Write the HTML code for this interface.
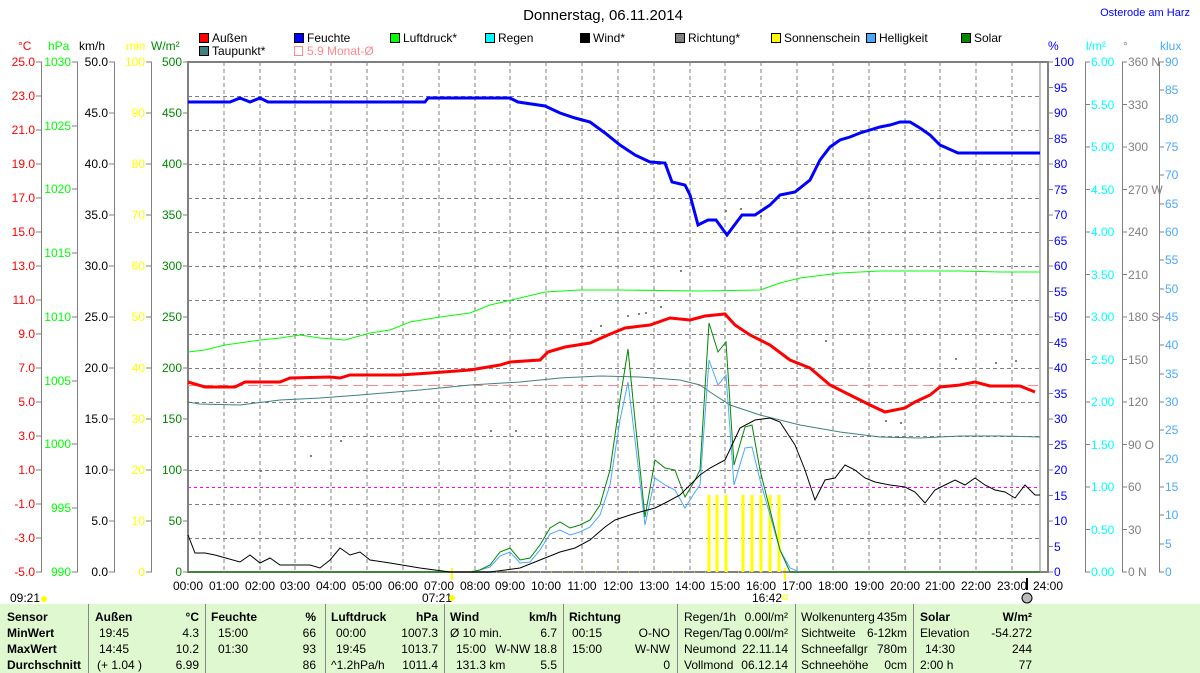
<!DOCTYPE html>
<html><head><meta charset="utf-8"><style>
body{margin:0;background:#fff;width:1200px;height:673px;overflow:hidden;font-family:"Liberation Sans",sans-serif}
svg{position:absolute;left:0;top:0}
text{font-family:"Liberation Sans",sans-serif;font-size:12px}
.tb{position:absolute;left:0;top:604px;width:1200px;height:69px;background:#e0f8d0}
.c{position:absolute;font-size:12px;white-space:nowrap}
.b{font-weight:bold}
.sep{position:absolute;top:604px;height:69px;width:1px;background:#888}
</style></head><body>
<div class="tb"></div>
<svg width="1200" height="673" viewBox="0 0 1200 673">
<text x="603" y="20" text-anchor="middle" style="font-size:15px">Donnerstag, 06.11.2014</text>
<text x="1190" y="16" text-anchor="end" fill="#00f" style="font-size:11px">Osterode am Harz</text>
<g stroke="#000" stroke-width="1">
<rect x="199.5" y="33.5" width="9" height="9" fill="#f00"/><rect x="294.5" y="33.5" width="9" height="9" fill="#00f"/>
<rect x="390.5" y="33.5" width="9" height="9" fill="#0f0"/><rect x="485.5" y="33.5" width="9" height="9" fill="#0ff"/>
<rect x="580.5" y="33.5" width="9" height="9" fill="#000"/><rect x="675.5" y="33.5" width="9" height="9" fill="#808080"/>
<rect x="771.5" y="33.5" width="9" height="9" fill="#ff0"/><rect x="866.5" y="33.5" width="9" height="9" fill="#4aa8ff"/>
<rect x="961.5" y="33.5" width="9" height="9" fill="#080"/><rect x="199.5" y="46.5" width="9" height="9" fill="#408080"/>
</g>
<rect x="294.5" y="46.5" width="8" height="9" fill="none" stroke="#f88"/>
<g style="font-size:11px">
<text x="212" y="42">Außen</text><text x="307" y="42">Feuchte</text><text x="403" y="42">Luftdruck*</text><text x="498" y="42">Regen</text>
<text x="593" y="42">Wind*</text><text x="688" y="42">Richtung*</text><text x="784" y="42">Sonnenschein</text><text x="879" y="42">Helligkeit</text>
<text x="974" y="42">Solar</text><text x="212" y="55">Taupunkt*</text><text x="307" y="55" fill="#f88">5.9 Monat-Ø</text>
</g>
<g style="font-size:11px">
<text x="18" y="50" fill="#f00">°C</text><text x="48" y="50" fill="#0f0">hPa</text><text x="79" y="50">km/h</text>
<text x="126" y="50" fill="#ff0">min</text><text x="151" y="50" fill="#080">W/m²</text>
<text x="1048" y="50" fill="#00f">%</text><text x="1086" y="50" fill="#0ff">l/m²</text><text x="1123" y="50" fill="#808080">°</text><text x="1160" y="50" fill="#4aa8ff">klux</text>
</g>
<g stroke="#808080" stroke-dasharray="4,3" stroke-width="1">
<path d="M224 62V572M260 62V572M295 62V572M331 62V572M367 62V572M403 62V572M439 62V572M475 62V572M510 62V572M546 62V572M582 62V572M618 62V572M654 62V572M690 62V572M725 62V572M761 62V572M797 62V572M833 62V572M869 62V572M905 62V572M940 62V572M976 62V572M1012 62V572"/>
<path d="M188 96.5H1040M188 130.5H1040M188 164.5H1040M188 198.5H1040M188 232.5H1040M188 266.5H1040M188 300.5H1040M188 334.5H1040M188 368.5H1040M188 402.5H1040M188 436.5H1040M188 470.5H1040M188 504.5H1040M188 538.5H1040"/>
</g>
<path d="M188 487.5H1040" stroke="#f0f" stroke-dasharray="3,3"/>
<g stroke="#808080" stroke-width="1" fill="none">
<path d="M41.5 62V572M77.5 62V572M114.5 62V572M151.5 62V572"/>
<path d="M36 62h6M36 96h6M36 130h6M36 164h6M36 198h6M36 232h6M36 266h6M36 300h6M36 334h6M36 368h6M36 402h6M36 436h6M36 470h6M36 504h6M36 538h6M36 572h6"/>
<path d="M72 62h6M72 126h6M72 189h6M72 253h6M72 317h6M72 381h6M72 444h6M72 508h6M72 572h6"/>
<path d="M109 62h6M109 113h6M109 164h6M109 215h6M109 266h6M109 317h6M109 368h6M109 419h6M109 470h6M109 521h6M109 572h6"/>
<path d="M146 62h6M146 113h6M146 164h6M146 215h6M146 266h6M146 317h6M146 368h6M146 419h6M146 470h6M146 521h6M146 572h6"/>
<path d="M183 62h6M183 113h6M183 164h6M183 215h6M183 266h6M183 317h6M183 368h6M183 419h6M183 470h6M183 521h6M183 572h6"/>
<path d="M1085.5 62V572M1122.5 62V572M1159.5 62V572"/>
<path d="M1048 62h5M1048 87.5h5M1048 113h5M1048 138.5h5M1048 164h5M1048 189.5h5M1048 215h5M1048 240.5h5M1048 266h5M1048 291.5h5M1048 317h5M1048 342.5h5M1048 368h5M1048 393.5h5M1048 419h5M1048 444.5h5M1048 470h5M1048 495.5h5M1048 521h5M1048 546.5h5M1048 572h5"/>
<path d="M1085 62h5M1085 104.5h5M1085 147h5M1085 189.5h5M1085 232h5M1085 274.5h5M1085 317h5M1085 359.5h5M1085 402h5M1085 444.5h5M1085 487h5M1085 529.5h5M1085 572h5"/>
<path d="M1122 62h5M1122 104.5h5M1122 147h5M1122 189.5h5M1122 232h5M1122 274.5h5M1122 317h5M1122 359.5h5M1122 402h5M1122 444.5h5M1122 487h5M1122 529.5h5M1122 572h5"/>
<path d="M1159 62h5M1159 90h5M1159 119h5M1159 147h5M1159 175h5M1159 204h5M1159 232h5M1159 260h5M1159 289h5M1159 317h5M1159 345h5M1159 374h5M1159 402h5M1159 430h5M1159 459h5M1159 487h5M1159 515h5M1159 544h5M1159 572h5"/>
</g>
<g text-anchor="end" fill="#f00">
<text x="35" y="66">25.0</text><text x="35" y="100">23.0</text><text x="35" y="134">21.0</text><text x="35" y="168">19.0</text><text x="35" y="202">17.0</text><text x="35" y="236">15.0</text><text x="35" y="270">13.0</text><text x="35" y="304">11.0</text><text x="35" y="338">9.0</text><text x="35" y="372">7.0</text><text x="35" y="406">5.0</text><text x="35" y="440">3.0</text><text x="35" y="474">1.0</text><text x="35" y="508">-1.0</text><text x="35" y="542">-3.0</text><text x="35" y="576">-5.0</text>
</g>
<g text-anchor="end" fill="#0f0">
<text x="71" y="66">1030</text><text x="71" y="130">1025</text><text x="71" y="193">1020</text><text x="71" y="257">1015</text><text x="71" y="321">1010</text><text x="71" y="385">1005</text><text x="71" y="448">1000</text><text x="71" y="512">995</text><text x="71" y="576">990</text>
</g>
<g text-anchor="end">
<text x="108" y="66">50.0</text><text x="108" y="117">45.0</text><text x="108" y="168">40.0</text><text x="108" y="219">35.0</text><text x="108" y="270">30.0</text><text x="108" y="321">25.0</text><text x="108" y="372">20.0</text><text x="108" y="423">15.0</text><text x="108" y="474">10.0</text><text x="108" y="525">5.0</text><text x="108" y="576">0.0</text>
</g>
<g text-anchor="end" fill="#ff0">
<text x="145" y="66">100</text><text x="145" y="117">90</text><text x="145" y="168">80</text><text x="145" y="219">70</text><text x="145" y="270">60</text><text x="145" y="321">50</text><text x="145" y="372">40</text><text x="145" y="423">30</text><text x="145" y="474">20</text><text x="145" y="525">10</text><text x="145" y="576">0</text>
</g>
<g text-anchor="end" fill="#080">
<text x="182" y="66">500</text><text x="182" y="117">450</text><text x="182" y="168">400</text><text x="182" y="219">350</text><text x="182" y="270">300</text><text x="182" y="321">250</text><text x="182" y="372">200</text><text x="182" y="423">150</text><text x="182" y="474">100</text><text x="182" y="525">50</text><text x="182" y="576">0</text>
</g>
<g fill="#00f">
<text x="1054" y="66">100</text><text x="1054" y="92">95</text><text x="1054" y="117">90</text><text x="1054" y="143">85</text><text x="1054" y="168">80</text><text x="1054" y="194">75</text><text x="1054" y="219">70</text><text x="1054" y="245">65</text><text x="1054" y="270">60</text><text x="1054" y="296">55</text><text x="1054" y="321">50</text><text x="1054" y="347">45</text><text x="1054" y="372">40</text><text x="1054" y="398">35</text><text x="1054" y="423">30</text><text x="1054" y="449">25</text><text x="1054" y="474">20</text><text x="1054" y="500">15</text><text x="1054" y="525">10</text><text x="1054" y="551">5</text><text x="1054" y="576">0</text>
</g>
<g fill="#0ff">
<text x="1091" y="66">6.00</text><text x="1091" y="109">5.50</text><text x="1091" y="151">5.00</text><text x="1091" y="194">4.50</text><text x="1091" y="236">4.00</text><text x="1091" y="279">3.50</text><text x="1091" y="321">3.00</text><text x="1091" y="364">2.50</text><text x="1091" y="406">2.00</text><text x="1091" y="449">1.50</text><text x="1091" y="491">1.00</text><text x="1091" y="534">0.50</text><text x="1091" y="576">0.00</text>
</g>
<g fill="#808080">
<text x="1128" y="66">360 N</text><text x="1128" y="109">330</text><text x="1128" y="151">300</text><text x="1128" y="194">270 W</text><text x="1128" y="236">240</text><text x="1128" y="279">210</text><text x="1128" y="321">180 S</text><text x="1128" y="364">150</text><text x="1128" y="406">120</text><text x="1128" y="449">90 O</text><text x="1128" y="491">60</text><text x="1128" y="534">30</text><text x="1128" y="576">0 N</text>
</g>
<g fill="#4aa8ff">
<text x="1165" y="66">90</text><text x="1165" y="94">85</text><text x="1165" y="123">80</text><text x="1165" y="151">75</text><text x="1165" y="179">70</text><text x="1165" y="208">65</text><text x="1165" y="236">60</text><text x="1165" y="264">55</text><text x="1165" y="293">50</text><text x="1165" y="321">45</text><text x="1165" y="349">40</text><text x="1165" y="378">35</text><text x="1165" y="406">30</text><text x="1165" y="434">25</text><text x="1165" y="463">20</text><text x="1165" y="491">15</text><text x="1165" y="519">10</text><text x="1165" y="548">5</text><text x="1165" y="576">0</text>
</g>
<g text-anchor="middle">
<text x="188" y="590">00:00</text><text x="224" y="590">01:00</text><text x="260" y="590">02:00</text><text x="295" y="590">03:00</text><text x="331" y="590">04:00</text><text x="367" y="590">05:00</text><text x="403" y="590">06:00</text><text x="439" y="590">07:00</text><text x="475" y="590">08:00</text><text x="510" y="590">09:00</text><text x="546" y="590">10:00</text><text x="582" y="590">11:00</text><text x="618" y="590">12:00</text><text x="654" y="590">13:00</text><text x="690" y="590">14:00</text><text x="725" y="590">15:00</text><text x="761" y="590">16:00</text><text x="797" y="590">17:00</text><text x="833" y="590">18:00</text><text x="869" y="590">19:00</text><text x="905" y="590">20:00</text><text x="940" y="590">21:00</text><text x="976" y="590">22:00</text><text x="1012" y="590">23:00</text><text x="1048" y="590">24:00</text>
<text x="437" y="602">07:21</text><text x="767" y="602">16:42</text>
</g>
<text x="10" y="602">09:21</text>
<circle cx="44" cy="599" r="3" fill="#ff0"/><circle cx="452" cy="598" r="3" fill="#ff0"/>
<rect x="783" y="595" width="4" height="4" fill="none" stroke="#ff0"/>
<circle cx="1027" cy="598" r="5" fill="#bbb" stroke="#000"/>
<path d="M1027 578V590" stroke="#000" stroke-width="2"/>
<path d="M452 568V580M785 568V580" stroke="#ff0" stroke-width="2"/>
<g stroke="#808080" fill="none" stroke-width="2">
<path d="M188 62H1048V572H188Z"/><path d="M1040 62V572" stroke-width="1"/>
</g>
<path d="M188 572H1040" stroke="#ff0" stroke-dasharray="1,10"/>
<path d="M188 385.5H1040" stroke="#f88" stroke-dasharray="10,5"/>
<g stroke="#ff0" stroke-width="3">
<path d="M709 495V572M717 495V572M726 495V572M743 495V572M752 495V572M761 495V572M770 495V572M779 495V572"/>
</g>
<polyline fill="none" stroke="#0f0" stroke-width="1" points="188,352 205,350 225,345 260,340 280,338 300,335 320,338 345,340 370,333 390,330 410,322 440,317 470,313 490,305 520,298 545,292 580,290 620,290 700,291 760,290 780,283 800,278 840,273 880,271 960,271 1000,272 1040,272"/>
<polyline fill="none" stroke="#408080" stroke-width="1" points="188,402 200,404 240,405 280,400 320,398 360,395 420,390 470,385 520,382 560,378 600,376 640,377 680,380 700,385 710,392 730,405 760,415 800,425 840,432 880,437 920,438 960,436 1000,436 1040,437"/>
<polyline fill="none" stroke="#4aa8ff" stroke-width="1" points="188,572 470,572 480,570 490,567 500,556 510,552 520,563 530,562 540,550 550,534 560,530 570,535 580,532 590,527 600,515 610,485 620,420 628,382 635,440 645,525 655,478 665,485 675,490 685,508 695,492 700,485 709,360 718,385 726,375 734,485 745,448 752,447 760,480 770,515 780,550 790,568 800,572 1040,572"/>
<polyline fill="none" stroke="#080" stroke-width="1" points="188,572 470,572 480,570 490,565 500,552 510,548 520,560 530,558 540,545 550,528 560,522 570,528 580,525 590,520 600,505 610,470 620,400 628,349 635,420 645,517 655,460 665,468 675,470 685,497 695,480 700,470 709,323 718,352 726,342 734,465 745,427 752,425 760,470 770,510 780,550 790,572 1040,572"/>
<polyline fill="none" stroke="#000" stroke-width="1" points="188,535 195,553 205,553 215,555 240,562 250,555 260,563 270,558 280,565 310,565 320,568 330,560 340,548 350,555 360,552 370,560 390,563 420,568 450,572 490,572 520,568 540,560 560,552 575,548 590,540 605,527 615,520 630,515 640,512 655,508 665,503 680,495 700,475 710,468 725,460 740,428 755,420 770,418 780,422 795,445 805,470 815,500 825,480 835,478 845,465 855,470 865,478 875,482 890,485 905,487 915,492 925,503 935,490 945,485 955,480 965,485 975,478 985,485 995,490 1005,492 1015,498 1025,485 1035,495 1040,495"/>
<polyline fill="none" stroke="#f00" stroke-width="3" points="188,382 205,387 235,387 245,382 280,382 290,378 330,377 340,378 350,375 400,375 430,373 470,370 500,365 510,362 540,360 548,352 565,347 590,343 608,335 625,328 650,325 670,318 690,320 705,316 725,314 735,325 750,335 770,345 790,360 810,368 830,385 850,395 870,405 885,412 905,408 915,402 930,395 940,387 960,385 975,382 990,386 1020,386 1035,392"/>
<polyline fill="none" stroke="#00f" stroke-width="3" points="188,102 230,102 240,98 250,102 260,98 268,102 425,102 428,98 510,98 518,102 545,106 560,113 575,118 590,122 605,133 620,145 635,155 650,162 665,163 672,182 685,185 690,195 698,225 708,220 716,220 727,235 742,215 755,215 770,205 780,195 795,192 810,180 820,160 830,147 840,140 850,137 860,133 870,130 880,127 890,125 900,122 910,122 920,128 930,135 940,145 958,153 1040,153"/>
<g fill="#808080">
<rect x="590" y="330" width="2" height="2"/><rect x="600" y="325" width="2" height="2"/><rect x="627" y="315" width="2" height="2"/><rect x="638" y="313" width="2" height="2"/><rect x="645" y="312" width="2" height="2"/><rect x="660" y="306" width="2" height="2"/><rect x="680" y="270" width="2" height="2"/><rect x="740" y="208" width="2" height="2"/><rect x="760" y="215" width="2" height="2"/><rect x="725" y="210" width="2" height="2"/><rect x="825" y="340" width="2" height="2"/><rect x="885" y="420" width="2" height="2"/><rect x="900" y="422" width="2" height="2"/><rect x="955" y="358" width="2" height="2"/><rect x="995" y="362" width="2" height="2"/><rect x="1015" y="360" width="2" height="2"/><rect x="490" y="430" width="2" height="2"/><rect x="515" y="430" width="2" height="2"/><rect x="340" y="440" width="2" height="2"/><rect x="310" y="455" width="2" height="2"/><rect x="260" y="470" width="2" height="2"/>
</g>
</svg>
<div class="sep" style="left:88px"></div><div class="sep" style="left:205px"></div><div class="sep" style="left:325px"></div><div class="sep" style="left:444px"></div><div class="sep" style="left:563px"></div><div class="sep" style="left:677px"></div><div class="sep" style="left:795px"></div><div class="sep" style="left:913px"></div>
<div class="c b" style="left:7px;top:610px">Sensor</div><div class="c b" style="left:7px;top:626px">MinWert</div><div class="c b" style="left:7px;top:642px">MaxWert</div><div class="c b" style="left:7px;top:658px">Durchschnitt</div>
<div class="c b" style="left:95px;top:610px">Außen</div><div class="c b" style="right:1001px;top:610px">°C</div>
<div class="c" style="left:99px;top:626px">19:45</div><div class="c" style="left:99px;top:642px">14:45</div><div class="c" style="left:97px;top:658px">(+ 1.04 )</div>
<div class="c" style="right:1001px;top:626px">4.3</div><div class="c" style="right:1001px;top:642px">10.2</div><div class="c" style="right:1001px;top:658px">6.99</div>
<div class="c b" style="left:211px;top:610px">Feuchte</div><div class="c b" style="right:884px;top:610px">%</div>
<div class="c" style="left:218px;top:626px">15:00</div><div class="c" style="left:218px;top:642px">01:30</div>
<div class="c" style="right:884px;top:626px">66</div><div class="c" style="right:884px;top:642px">93</div><div class="c" style="right:884px;top:658px">86</div>
<div class="c b" style="left:331px;top:610px">Luftdruck</div><div class="c b" style="right:762px;top:610px">hPa</div>
<div class="c" style="left:336px;top:626px">00:00</div><div class="c" style="left:336px;top:642px">19:45</div><div class="c" style="left:331px;top:658px">^1.2hPa/h</div>
<div class="c" style="right:762px;top:626px">1007.3</div><div class="c" style="right:762px;top:642px">1013.7</div><div class="c" style="right:762px;top:658px">1011.4</div>
<div class="c b" style="left:450px;top:610px">Wind</div><div class="c b" style="right:643px;top:610px">km/h</div>
<div class="c" style="left:450px;top:626px">Ø 10 min.</div><div class="c" style="left:456px;top:642px">15:00</div><div class="c" style="right:643px;top:642px">W-NW 18.8</div><div class="c" style="left:456px;top:658px">131.3 km</div>
<div class="c" style="right:643px;top:626px">6.7</div><div class="c" style="right:643px;top:658px">5.5</div>
<div class="c b" style="left:569px;top:610px">Richtung</div>
<div class="c" style="left:572px;top:626px">00:15</div><div class="c" style="left:572px;top:642px">15:00</div>
<div class="c" style="right:530px;top:626px">O-NO</div><div class="c" style="right:530px;top:642px">W-NW</div><div class="c" style="right:530px;top:658px">0</div>
<div class="c" style="left:684px;top:610px">Regen/1h</div><div class="c" style="left:684px;top:626px">Regen/Tag</div><div class="c" style="left:684px;top:642px">Neumond</div><div class="c" style="left:684px;top:658px">Vollmond</div>
<div class="c" style="right:412px;top:610px">0.00l/m²</div><div class="c" style="right:412px;top:626px">0.00l/m²</div><div class="c" style="right:412px;top:642px">22.11.14</div><div class="c" style="right:412px;top:658px">06.12.14</div>
<div class="c" style="left:801px;top:610px">Wolkenunterg</div><div class="c" style="left:801px;top:626px">Sichtweite</div><div class="c" style="left:801px;top:642px">Schneefallgr</div><div class="c" style="left:801px;top:658px">Schneehöhe</div>
<div class="c" style="right:293px;top:610px">435m</div><div class="c" style="right:293px;top:626px">6-12km</div><div class="c" style="right:293px;top:642px">780m</div><div class="c" style="right:293px;top:658px">0cm</div>
<div class="c b" style="left:920px;top:610px">Solar</div><div class="c b" style="right:168px;top:610px">W/m²</div>
<div class="c" style="left:920px;top:626px">Elevation</div><div class="c" style="left:925px;top:642px">14:30</div><div class="c" style="left:920px;top:658px">2:00 h</div>
<div class="c" style="right:168px;top:626px">-54.272</div><div class="c" style="right:168px;top:642px">244</div><div class="c" style="right:168px;top:658px">77</div>
</body></html>
